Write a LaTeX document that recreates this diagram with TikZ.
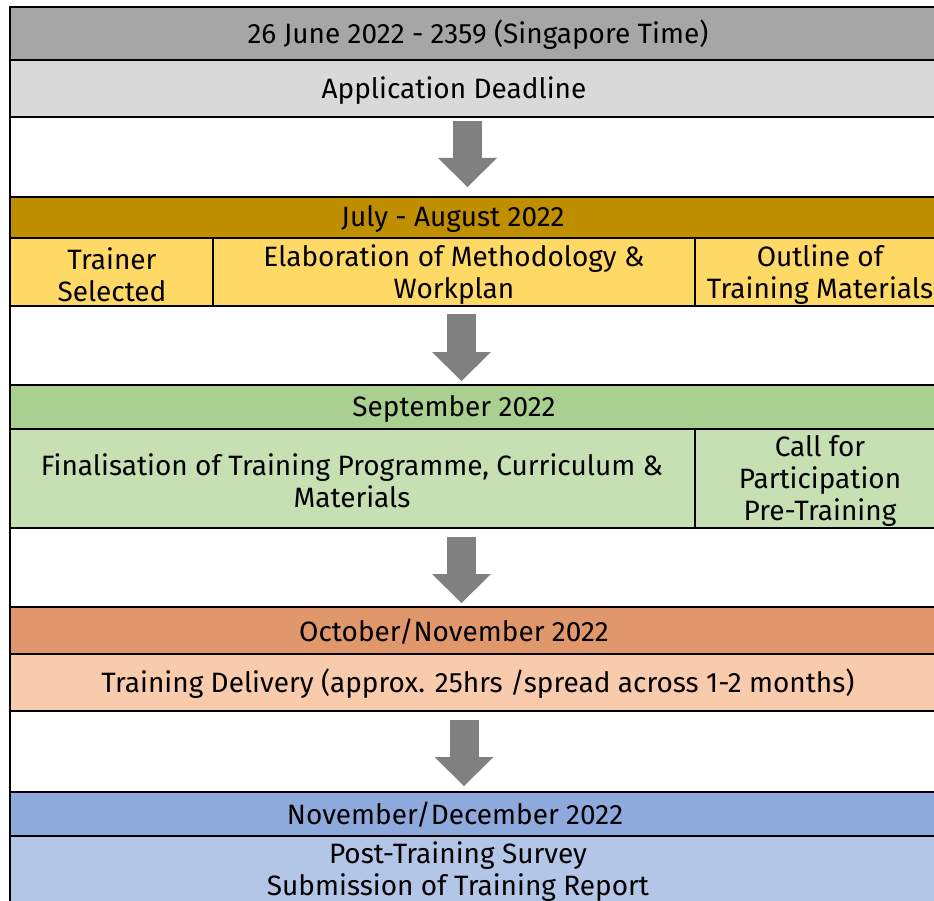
\documentclass[tikz,border=0pt]{standalone}
\usepackage{fontspec}
\setmainfont{Fira Sans}
\usetikzlibrary{arrows.meta}
\usetikzlibrary{positioning}

\definecolor{hdgray}{HTML}{A6A6A6}
\definecolor{bdgray}{HTML}{D9D9D9}
\definecolor{hdgold}{HTML}{BF8F00}
\definecolor{bdgold}{HTML}{FFD966}
\definecolor{hdgreen}{HTML}{A9D08E}
\definecolor{bdgreen}{HTML}{C6E0B4}
\definecolor{hdorange}{HTML}{E0976C}
\definecolor{bdorange}{HTML}{F8CBAD}
\definecolor{hdblue}{HTML}{8EA9DB}
\definecolor{bdblue}{HTML}{B4C6E7}
\definecolor{arrowgray}{HTML}{808080}

\tikzset{
    rule/.style={black, line width=2.5pt},
    txt/.style={align=center, inner sep=0pt, font=\fontsize{28}{32}\selectfont},
    bigarrow/.style={arrowgray, line width=29pt,
        -{Triangle[width=59pt, length=29pt, line width=0pt]}}
}

\begin{document}
\begin{tikzpicture}[x=1pt, y=-1pt]
    % Page size and table edges
    \useasboundingbox (0,0) rectangle (934,901);
    \clip (0,0) rectangle (934,901);
    \def\lft{10}
    \def\rgt{946}
    \def\colA{213}
    \def\colB{695}
    % Row bands: top/bottom/colour
    \foreach \top/\bot/\col in {
        7/60/hdgray,
        60/117/bdgray,
        117/197/white,
        197/238/hdgold,
        238/306/bdgold,
        306/385/white,
        385/429/hdgreen,
        429/528/bdgreen,
        528/607/white,
        607/654/hdorange,
        654/711/bdorange,
        711/792/white,
        792/836/hdblue,
        836/940/bdblue} {
        \fill[\col] (\lft,\top) rectangle (\rgt,\bot);
    }
    % Horizontal rules
    \foreach \y in {7,60,117,197,238,306,385,429,528,607,654,711,792,836} {
        \draw[rule] (\lft,\y) -- (\rgt,\y);
    }
    % Left border and column rules
    \draw[rule] (\lft,5.75) -- (\lft,940);
    \draw[rule] (\colA,238) -- (\colA,306);
    \draw[rule] (\colB,238) -- (\colB,306);
    \draw[rule] (\colB,429) -- (\colB,528);

    % Stage 1
    \node[txt] (deadtime) at (478,35) {26 June 2022 - 2359 (Singapore Time)};
    \node[txt] (deadline) at (454,91) {Application Deadline};
    % Stage 2
    \node[txt] (julaug) at (453,219) {July - August 2022};
    \node[txt] (trainer) at (112,275) {Trainer\\Selected};
    \node[txt] (method) at (454,275) {Elaboration of Methodology \&\\Workplan};
    \node[txt] (outline) at (820,275) {Outline of\\Training Materials};
    % Stage 3
    \node[txt] (sept) at (454,409) {September 2022};
    \node[txt] (final) at (352,481) {Finalisation of Training Programme, Curriculum \&\\Materials};
    \node[txt] (call) at (820,481) {Call for\\Participation\\Pre-Training};
    % Stage 4
    \node[txt] (octnov) at (454,632) {October/November 2022};
    \node[txt] (delivery) at (478,684) {Training Delivery (approx. 25hrs /spread across 1-2 months)};
    % Stage 5
    \node[txt] (novdec) at (455,815) {November/December 2022};
    \node[txt] (survey) at (458,872) {Post-Training Survey\\Submission of Training Report};

    % Block arrows between stages
    \coordinate (arrAs) at (467.5,121);  \coordinate (arrAe) at (467.5,187);
    \coordinate (arrBs) at (461.5,314);  \coordinate (arrBe) at (461.5,381);
    \coordinate (arrCs) at (461.5,537);  \coordinate (arrCe) at (461.5,603);
    \coordinate (arrDs) at (464,720);    \coordinate (arrDe) at (464,786);
    \foreach \a in {A,B,C,D} {
        \draw[bigarrow] (arr\a s) -- (arr\a e);
    }
\end{tikzpicture}
\end{document}
